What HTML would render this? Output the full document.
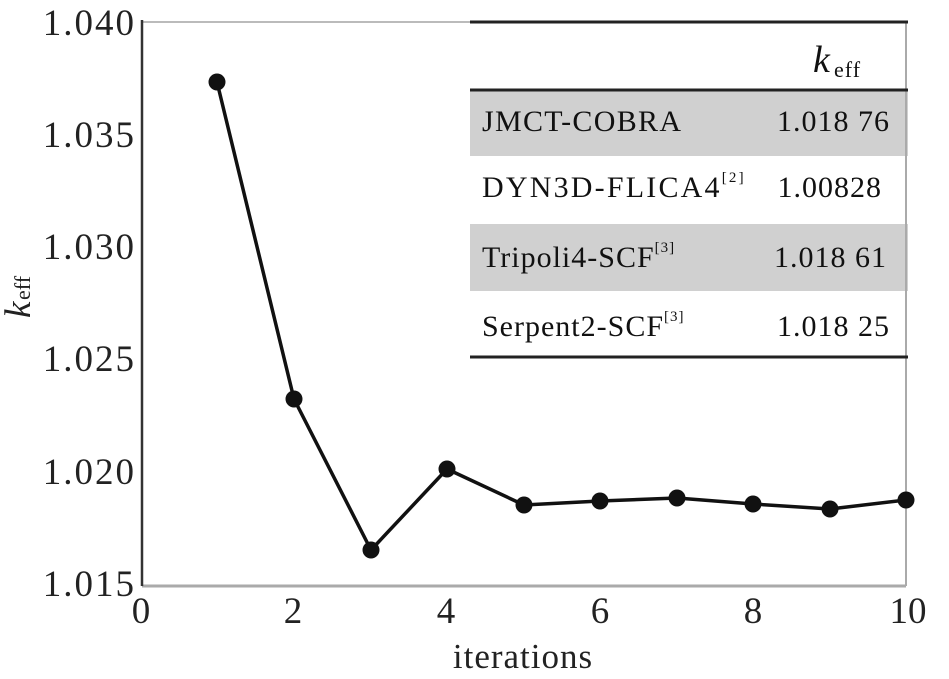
<!DOCTYPE html>
<html><head><meta charset="utf-8"><style>
html,body{margin:0;padding:0;background:#fff;}
svg{display:block;font-family:"Liberation Serif",serif;}
</style></head><body>
<svg width="949" height="679" viewBox="0 0 949 679">
<rect x="0" y="0" width="949" height="679" fill="#fff"/>
<rect x="470" y="91" width="438" height="65" fill="#d0d0d0"/>
<rect x="470" y="224" width="438" height="67" fill="#d0d0d0"/>
<line x1="142" y1="22" x2="470" y2="22" stroke="#bbb" stroke-width="2"/>
<line x1="142" y1="586" x2="906" y2="586" stroke="#aaa" stroke-width="3"/>
<line x1="906" y1="22" x2="906" y2="586" stroke="#aaa" stroke-width="2"/>
<line x1="142" y1="20" x2="142" y2="586" stroke="#333" stroke-width="2.5"/>
<line x1="470" y1="22" x2="908" y2="22" stroke="#222" stroke-width="3"/>
<line x1="470" y1="90" x2="908" y2="90" stroke="#222" stroke-width="3"/>
<line x1="470" y1="357" x2="908" y2="357" stroke="#222" stroke-width="3"/>
<g font-size="30" fill="#111" letter-spacing="1">
<text x="813" y="72" font-style="italic" font-size="38">k</text>
<text x="834" y="77" font-size="22">eff</text>
<text x="482" y="131" letter-spacing="1.3">JMCT-COBRA</text>
<text x="890" y="131" text-anchor="end">1.018 76</text>
<text x="482" y="197" letter-spacing="2.2">DYN3D-FLICA4<tspan font-size="15" dy="-15">[2]</tspan></text>
<text x="882" y="197" text-anchor="end">1.00828</text>
<text x="482" y="267">Tripoli4-SCF<tspan font-size="15" dy="-15">[3]</tspan></text>
<text x="887" y="267" text-anchor="end">1.018 61</text>
<text x="482" y="336">Serpent2-SCF<tspan font-size="15" dy="-15">[3]</tspan></text>
<text x="890" y="336" text-anchor="end">1.018 25</text>
</g>
<g font-size="37" fill="#222" text-anchor="end" letter-spacing="2">
<text x="136" y="35">1.040</text>
<text x="136" y="147">1.035</text>
<text x="136" y="259">1.030</text>
<text x="136" y="371">1.025</text>
<text x="136" y="484">1.020</text>
<text x="136" y="596">1.015</text>
</g>
<g font-size="37" fill="#222" text-anchor="middle">
<text x="141" y="623">0</text>
<text x="293" y="623">2</text>
<text x="446" y="623">4</text>
<text x="600" y="623">6</text>
<text x="753" y="623">8</text>
<text x="908" y="623">10</text>
</g>
<text x="523" y="668" font-size="35" fill="#222" text-anchor="middle" letter-spacing="1">iterations</text>
<g transform="translate(30,300) rotate(-90)" fill="#222">
<text x="-18" y="0" font-size="37" font-style="italic">k</text>
<text x="0" y="0" font-size="22">eff</text>
</g>
<polyline fill="none" stroke="#111" stroke-width="3.5" stroke-linejoin="round"
points="217,82 294,399 371,550 447,469 524,505 600,501 677,498 753,504 830,509 906,500"/>
<g fill="#111">
<ellipse cx="217" cy="82" rx="8.5" ry="8.5"/>
<ellipse cx="294" cy="399" rx="8.5" ry="8.5"/>
<ellipse cx="371" cy="550" rx="8.5" ry="8.5"/>
<ellipse cx="447" cy="469" rx="8.5" ry="8.5"/>
<ellipse cx="524" cy="505" rx="8.5" ry="8.5"/>
<ellipse cx="600" cy="501" rx="8.5" ry="8.5"/>
<ellipse cx="677" cy="498" rx="8.5" ry="8.5"/>
<ellipse cx="753" cy="504" rx="8.5" ry="8.5"/>
<ellipse cx="830" cy="509" rx="8.5" ry="8.5"/>
<ellipse cx="906" cy="500" rx="8.5" ry="8.5"/>
</g>
</svg>
</body></html>
